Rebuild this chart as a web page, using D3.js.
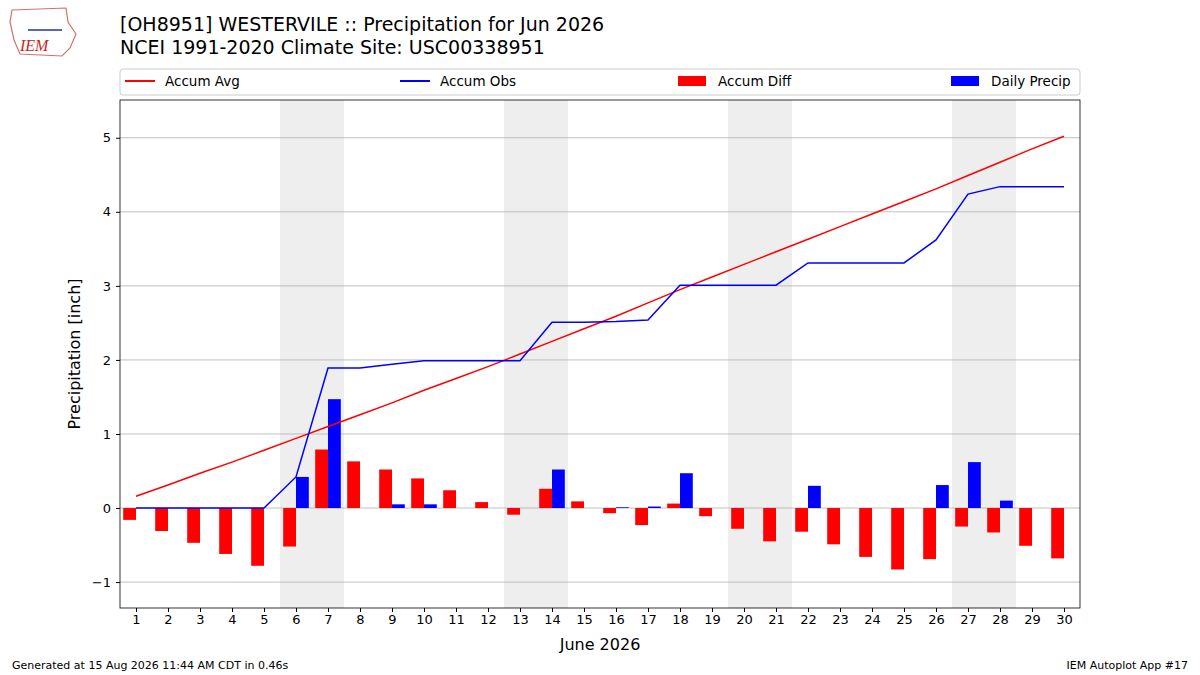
<!DOCTYPE html>
<html><head><meta charset="utf-8">
<script src="https://cdn.jsdelivr.net/npm/d3@7"></script>
<style>body{margin:0;background:#fff;font-family:"DejaVu Sans",sans-serif}</style>
</head><body>
<svg id="chart" width="1200" height="675"></svg>
<script>
// data
const days = d3.range(1, 31);
const accumAvg = [0.16,0.31,0.47,0.62,0.78,0.94,1.10,1.26,1.42,1.59,1.75,1.91,2.08,2.25,2.42,2.59,2.77,2.95,3.12,3.29,3.46,3.63,3.80,3.97,4.14,4.31,4.49,4.67,4.85,5.02];
const accumObs = [0,0,0,0,0,0.42,1.89,1.89,1.94,1.99,1.99,1.99,1.99,2.51,2.51,2.52,2.54,3.01,3.01,3.01,3.01,3.31,3.31,3.31,3.31,3.62,4.24,4.34,4.34,4.34];
const dailyPrecip = [0,0,0,0,0,0.42,1.47,0,0.05,0.05,0,0,0,0.52,0,0.01,0.02,0.47,0,0,0,0.30,0,0,0,0.31,0.62,0.10,0,0];
const weekends = [[6,7],[13,14],[20,21],[27,28]];
const yTicks = [-1,0,1,2,3,4,5];

const svg = d3.select('#chart');
const pLeft = 120, pRight = 1080, pTop = 100, pBottom = 608;
const x = d3.scaleLinear().domain([0.5, 30.5]).range([pLeft, pRight]);
const y = d3.scaleLinear().domain([-1.35, 5.51]).range([pBottom, pTop]);

// weekend shading
svg.selectAll('rect.wk').data(weekends).enter().append('rect')
  .attr('x', d => x(d[0] - 0.5)).attr('width', d => x(d[1] + 0.5) - x(d[0] - 0.5))
  .attr('y', pTop).attr('height', pBottom - pTop).attr('fill', '#eeeeee');

// grid
svg.selectAll('line.grid').data(yTicks).enter().append('line')
  .attr('x1', pLeft).attr('x2', pRight).attr('y1', d => y(d)).attr('y2', d => y(d))
  .attr('stroke', '#b0b0b0').attr('stroke-width', 0.8);

const bw = x(1.4) - x(1);
const diff = days.map((d, i) => accumObs[i] - accumAvg[i]);
svg.selectAll('rect.diff').data(days).enter().append('rect')
  .attr('x', d => x(d) - bw).attr('width', bw)
  .attr('y', (d, i) => y(Math.max(0, diff[i]))).attr('height', (d, i) => Math.abs(y(diff[i]) - y(0)))
  .attr('fill', 'red');
svg.selectAll('rect.daily').data(days).enter().append('rect')
  .attr('x', d => x(d)).attr('width', bw)
  .attr('y', (d, i) => y(dailyPrecip[i])).attr('height', (d, i) => y(0) - y(dailyPrecip[i]))
  .attr('fill', 'blue');

const line = arr => d3.line().x(d => x(d)).y((d, i) => y(arr[i]))(days);
svg.append('path').attr('d', line(accumAvg)).attr('fill', 'none').attr('stroke', 'red').attr('stroke-width', 1.5);
svg.append('path').attr('d', line(accumObs)).attr('fill', 'none').attr('stroke', 'blue').attr('stroke-width', 1.5);

// frame + axes
svg.append('rect').attr('x', pLeft).attr('y', pTop).attr('width', pRight - pLeft).attr('height', pBottom - pTop)
  .attr('fill', 'none').attr('stroke', '#000').attr('stroke-width', 0.8);
const xa = svg.append('g').attr('transform', `translate(0,${pBottom})`)
  .call(d3.axisBottom(x).tickValues(days).tickSize(4).tickSizeOuter(0));
const ya = svg.append('g').attr('transform', `translate(${pLeft},0)`)
  .call(d3.axisLeft(y).tickValues(yTicks).tickSize(4).tickSizeOuter(0).tickFormat(d => d < 0 ? '\u2212' + (-d) : d));
[xa, ya].forEach(a => {
  a.select('.domain').remove();
  a.selectAll('text').attr('font-size', 13).attr('font-family', 'DejaVu Sans').attr('fill', '#000');
});
ya.selectAll('text').attr('dx', -2);

svg.append('text').attr('x', 600).attr('y', 650).attr('text-anchor', 'middle').attr('font-size', 16).text('June 2026');
svg.append('text').attr('transform', `translate(80,${(pTop + pBottom) / 2}) rotate(-90)`)
  .attr('text-anchor', 'middle').attr('font-size', 16).text('Precipitation [inch]');

// titles
svg.append('text').attr('x', 120).attr('y', 31).attr('font-size', 19).text('[OH8951] WESTERVILE :: Precipitation for Jun 2026');
svg.append('text').attr('x', 120).attr('y', 54).attr('font-size', 19).text('NCEI 1991-2020 Climate Site: USC00338951');

// legend
svg.append('rect').attr('x', 120).attr('y', 69).attr('width', 960).attr('height', 26).attr('rx', 3)
  .attr('fill', '#fff').attr('stroke', '#ccc');
const legend = [
  {name: 'Accum Avg', color: 'red', type: 'line', x: 125},
  {name: 'Accum Obs', color: 'blue', type: 'line', x: 400},
  {name: 'Accum Diff', color: 'red', type: 'bar', x: 678},
  {name: 'Daily Precip', color: 'blue', type: 'bar', x: 951}
];
legend.forEach(l => {
  if (l.type === 'line') svg.append('line').attr('x1', l.x).attr('x2', l.x + 30).attr('y1', 81).attr('y2', 81).attr('stroke', l.color).attr('stroke-width', 2);
  else svg.append('rect').attr('x', l.x).attr('y', 76).attr('width', 28).attr('height', 10).attr('fill', l.color);
  svg.append('text').attr('x', l.x + 40).attr('y', 86).attr('font-size', 13.5).text(l.name);
});

// logo
const logo = svg.append('g');
logo.append('path').attr('d', 'M12,10 L66,8 L68,22 L76,34 L70,48 L62,56 L20,54 L14,40 L10,22 Z')
  .attr('fill', 'none').attr('stroke', '#d07070').attr('stroke-width', 1.2);
logo.append('text').attr('x', 20).attr('y', 51).attr('font-size', 16).attr('font-style', 'italic')
  .attr('font-family', 'Liberation Serif').attr('fill', '#cc2222').text('IEM');
logo.append('line').attr('x1', 28).attr('x2', 62).attr('y1', 30).attr('y2', 30).attr('stroke', '#2233aa').attr('stroke-width', 1.5);

svg.append('text').attr('x', 12).attr('y', 669).attr('font-size', 11).text('Generated at 15 Aug 2026 11:44 AM CDT in 0.46s');
svg.append('text').attr('x', 1188).attr('y', 669).attr('text-anchor', 'end').attr('font-size', 11).text('IEM Autoplot App #17');
</script>
</body></html>
